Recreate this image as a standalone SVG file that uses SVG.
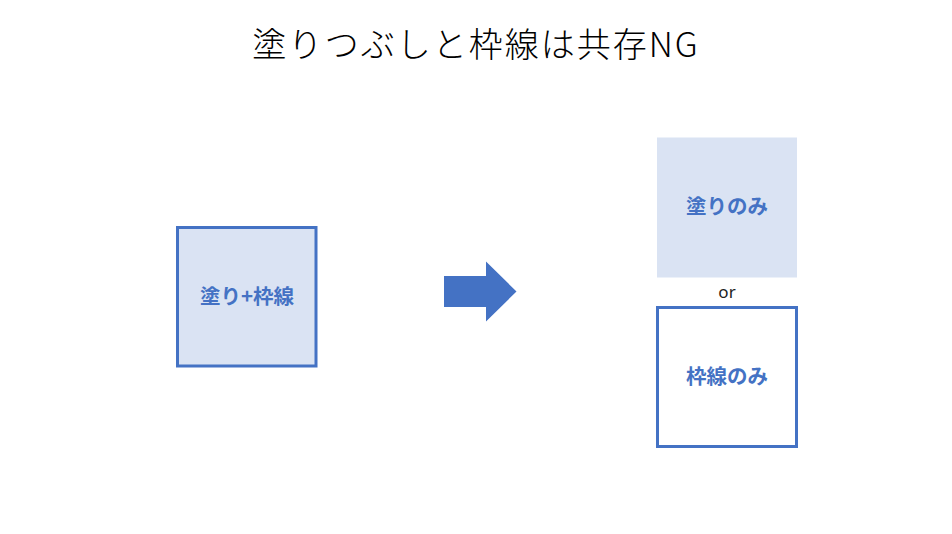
<svg xmlns="http://www.w3.org/2000/svg" width="952" height="534" viewBox="0 0 952 534">
<style>
.lbl{font-family:"Noto Sans CJK JP","Noto Sans",sans-serif;font-weight:bold;font-size:20.5px;fill:#4472C4;text-anchor:middle;dominant-baseline:central}
.title{font-family:"Noto Sans CJK JP","Noto Sans",sans-serif;font-weight:300;font-size:34px;letter-spacing:2px;fill:#000;text-anchor:middle}
.or{font-family:"Noto Sans","Noto Sans CJK JP",sans-serif;font-size:17px;fill:#222;text-anchor:middle;dominant-baseline:central}
</style>
<rect width="952" height="534" fill="#fff"/>
<text class="title" x="476" y="57">塗りつぶしと枠線は共存NG</text>
<g id="node-both">
<rect x="177.5" y="227.5" width="138.5" height="138.5" fill="#DAE3F3" stroke="#4472C4" stroke-width="3"/>
<text class="lbl" x="247" y="295">塗り+枠線</text>
</g>
<g id="connectors">
<polygon points="444,276 486,276 486,261.5 516.5,291.5 486,321.5 486,307 444,307" fill="#4472C4"/>
</g>
<g id="node-fill">
<rect x="657" y="137.5" width="140" height="140" fill="#DAE3F3"/>
<text class="lbl" x="727" y="205">塗りのみ</text>
</g>
<text class="or" x="727" y="291">or</text>
<g id="node-stroke">
<rect x="657.5" y="307.5" width="139" height="139" fill="#fff" stroke="#4472C4" stroke-width="3"/>
<text class="lbl" x="727" y="375">枠線のみ</text>
</g>
</svg>
